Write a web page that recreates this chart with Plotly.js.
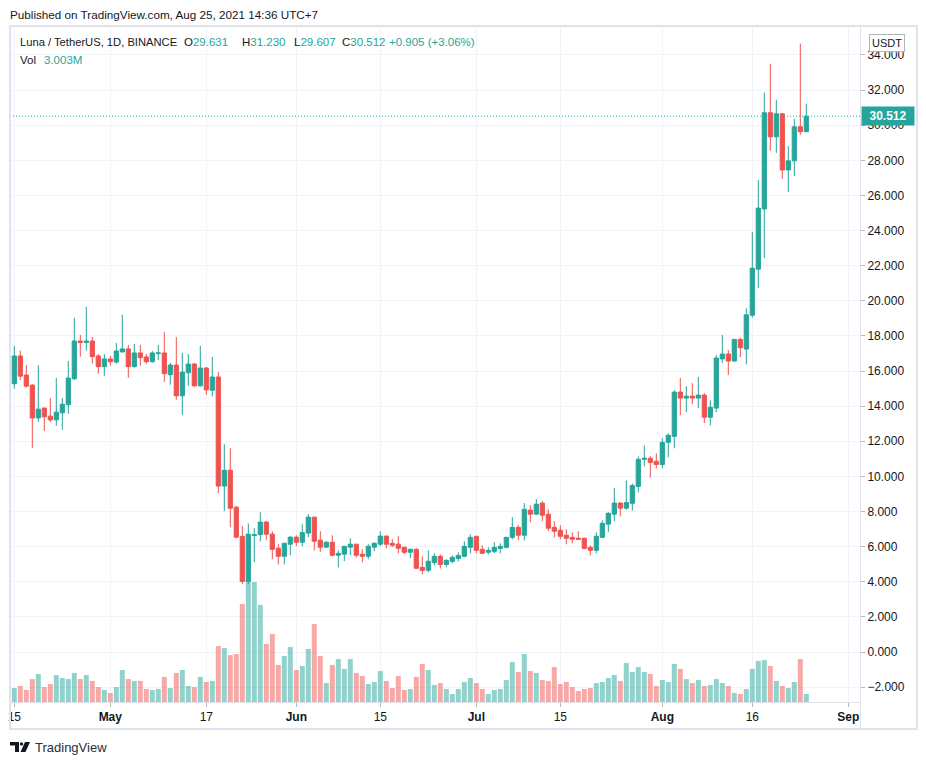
<!DOCTYPE html>
<html>
<head>
<meta charset="utf-8">
<script src="https://cdn.plot.ly/plotly-3.0.1.min.js"></script>
<style>
html,body{margin:0;padding:0;background:#fff;}
#chart{width:926px;height:765px;}
</style>
</head>
<body>
<div id="chart"></div>
<script>
// ---- DATA (Luna / TetherUS, 1D, BINANCE) ----
var dates = [
'2021-04-14','2021-04-15','2021-04-16','2021-04-17','2021-04-18','2021-04-19','2021-04-20','2021-04-21','2021-04-22','2021-04-23','2021-04-24','2021-04-25','2021-04-26','2021-04-27','2021-04-28','2021-04-29','2021-04-30',
'2021-05-01','2021-05-02','2021-05-03','2021-05-04','2021-05-05','2021-05-06','2021-05-07','2021-05-08','2021-05-09','2021-05-10','2021-05-11','2021-05-12','2021-05-13','2021-05-14','2021-05-15','2021-05-16','2021-05-17','2021-05-18','2021-05-19','2021-05-20','2021-05-21','2021-05-22','2021-05-23','2021-05-24','2021-05-25','2021-05-26','2021-05-27','2021-05-28','2021-05-29','2021-05-30','2021-05-31',
'2021-06-01','2021-06-02','2021-06-03','2021-06-04','2021-06-05','2021-06-06','2021-06-07','2021-06-08','2021-06-09','2021-06-10','2021-06-11','2021-06-12','2021-06-13','2021-06-14','2021-06-15','2021-06-16','2021-06-17','2021-06-18','2021-06-19','2021-06-20','2021-06-21','2021-06-22','2021-06-23','2021-06-24','2021-06-25','2021-06-26','2021-06-27','2021-06-28','2021-06-29','2021-06-30',
'2021-07-01','2021-07-02','2021-07-03','2021-07-04','2021-07-05','2021-07-06','2021-07-07','2021-07-08','2021-07-09','2021-07-10','2021-07-11','2021-07-12','2021-07-13','2021-07-14','2021-07-15','2021-07-16','2021-07-17','2021-07-18','2021-07-19','2021-07-20','2021-07-21','2021-07-22','2021-07-23','2021-07-24','2021-07-25','2021-07-26','2021-07-27','2021-07-28','2021-07-29','2021-07-30','2021-07-31',
'2021-08-01','2021-08-02','2021-08-03','2021-08-04','2021-08-05','2021-08-06','2021-08-07','2021-08-08','2021-08-09','2021-08-10','2021-08-11','2021-08-12','2021-08-13','2021-08-14','2021-08-15','2021-08-16','2021-08-17','2021-08-18','2021-08-19','2021-08-20','2021-08-21','2021-08-22','2021-08-23','2021-08-24','2021-08-25'
];
var openP = [
15.70,15.28,16.86,15.77,15.20,13.33,13.89,13.43,13.22,13.62,14.08,15.56,17.71,17.62,17.71,16.86,16.25,
16.69,16.51,17.09,17.26,16.25,17.03,16.80,16.53,16.99,17.03,15.79,16.34,14.59,15.90,16.40,15.16,16.17,14.91,15.66,9.45,10.35,8.25,6.58,4.02,6.63,6.68,7.40,6.71,5.91,5.45,6.14,
6.54,6.25,6.77,7.68,6.37,5.97,6.25,5.51,5.57,5.97,6.14,5.57,5.45,5.97,6.14,6.60,6.19,6.14,5.97,5.68,5.85,4.82,4.65,5.10,5.45,4.99,5.16,5.33,5.45,5.96,
6.59,5.85,5.68,5.73,5.90,5.96,6.53,7.10,6.65,8.08,7.85,8.48,7.85,7.10,6.93,6.65,6.53,6.48,6.48,5.96,5.79,6.53,7.28,7.85,8.48,8.19,8.47,9.43,10.97,11.03,10.86,
10.68,11.94,12.28,14.80,14.46,14.57,14.46,14.63,13.37,13.89,16.69,16.97,16.57,17.80,17.25,19.18,21.80,25.23,30.71,29.34,30.65,27.45,27.97,29.91,29.631
];
var highP = [
16.00,17.43,17.16,16.34,15.25,16.34,13.92,14.46,15.60,14.46,16.57,19.03,18.06,19.66,17.94,16.97,16.97,
16.86,17.60,19.20,17.49,17.54,17.49,16.97,17.14,17.49,18.23,16.46,17.94,17.03,16.97,16.44,17.43,16.23,16.80,15.94,11.83,11.60,8.31,7.17,7.32,7.05,7.96,7.46,6.88,6.14,6.22,6.60,
6.65,7.28,7.85,7.70,6.88,6.30,6.65,5.79,6.04,6.48,6.16,5.85,6.14,6.25,6.88,6.62,6.42,6.60,5.99,5.88,5.91,5.45,5.79,5.62,5.56,5.28,5.50,5.68,6.30,6.70,
6.61,6.08,5.96,6.25,6.19,6.55,7.68,7.22,8.48,8.36,8.71,8.59,8.13,7.45,7.22,6.99,6.82,6.88,6.50,6.08,6.82,7.50,7.96,9.35,8.53,9.77,9.60,11.14,11.77,11.14,11.31,
12.17,12.46,14.91,15.60,15.14,15.31,15.66,14.74,14.34,16.91,18.06,17.20,17.83,17.89,19.57,23.91,26.88,31.85,33.50,31.45,30.70,28.82,30.37,34.65,31.230
];
var lowP = [
15.10,14.99,15.50,15.05,11.62,13.10,12.59,13.10,12.88,12.65,13.56,15.50,16.82,17.16,16.42,15.85,15.73,
16.30,16.42,17.05,15.62,16.20,16.30,16.42,16.48,16.63,15.39,15.22,14.36,13.50,15.16,15.10,15.10,14.65,14.55,9.05,8.02,7.11,6.48,3.87,3.85,5.11,6.31,6.37,5.28,4.99,4.99,5.51,
6.02,6.02,6.54,5.79,5.68,5.95,5.45,4.82,5.17,5.51,5.39,5.11,5.28,5.74,6.02,5.91,5.97,5.62,5.57,5.34,4.71,4.42,4.54,4.93,4.76,4.82,5.05,5.16,5.39,5.62,
5.62,5.60,5.56,5.62,5.62,5.90,6.42,6.36,6.36,7.39,7.83,7.45,6.88,6.53,6.42,6.13,6.19,6.40,5.85,5.50,5.62,6.50,6.82,7.45,7.73,8.11,8.06,9.08,10.57,9.94,10.46,
10.46,11.09,11.60,13.49,13.66,14.11,13.89,13.03,12.91,13.66,16.46,15.77,16.51,16.80,16.38,19.06,20.72,22.43,28.54,28.42,26.94,26.20,27.11,29.45,29.607
];
var closeP = [
15.30,16.86,15.71,15.14,13.33,13.83,13.39,13.22,13.66,14.11,15.60,17.71,17.62,17.71,16.82,16.25,16.69,
16.53,17.14,17.26,16.25,17.03,16.76,16.53,17.03,17.03,15.85,16.34,14.59,15.94,16.40,15.16,16.17,14.93,15.66,9.45,10.35,8.19,6.54,4.02,6.71,6.68,7.40,6.71,5.85,5.45,6.19,6.54,
6.25,6.80,7.68,6.31,5.97,6.25,5.51,5.62,6.02,6.14,5.51,5.45,6.02,6.19,6.60,6.14,6.08,5.91,5.68,5.85,4.77,4.65,5.17,5.45,4.99,5.22,5.39,5.50,6.02,6.53,
5.79,5.62,5.79,5.96,6.02,6.53,7.10,6.65,8.13,7.85,8.42,7.79,7.05,6.88,6.59,6.48,6.42,6.42,5.90,5.79,6.59,7.33,7.90,8.48,8.19,8.51,9.48,10.97,11.03,10.80,10.68,
11.94,12.34,14.80,14.46,14.57,14.46,14.63,13.37,13.94,16.74,16.97,16.57,17.80,17.33,19.20,21.86,25.28,30.71,29.34,30.65,27.45,27.97,29.91,29.631,30.512
];
// volume in millions (LUNA)
var volumeM = [
6.0,5.25,6.0,4.5,8.6,10.5,5.6,6.75,10.1,9.0,8.6,10.9,8.6,10.1,7.9,5.6,4.5,
3.4,5.6,12.0,8.6,7.9,7.9,4.9,4.5,4.9,9.4,5.25,10.9,12.0,6.0,5.6,9.4,7.5,7.9,21.0,20.25,17.6,18.0,36.75,45.5,45.0,36.4,21.75,25.5,13.9,17.25,20.6,
12.0,13.5,19.9,29.25,17.25,7.1,13.9,16.1,12.4,16.1,10.9,9.75,6.75,7.5,11.6,7.9,5.25,9.75,4.5,4.9,9.4,14.25,12.0,6.4,7.1,4.9,3.0,4.9,7.5,9.0,
7.1,4.9,3.0,4.5,4.9,8.25,15.0,11.25,18.0,11.6,10.9,8.25,7.9,13.1,6.75,7.5,5.6,4.1,4.9,5.25,7.1,7.5,9.0,10.1,7.9,14.6,11.25,13.1,11.25,10.5,6.0,
8.25,7.5,14.25,12.4,8.6,7.1,8.25,6.0,6.4,8.6,7.1,6.0,3.4,3.0,4.9,12.4,15.4,15.75,13.5,7.9,6.0,5.25,7.5,16.1,3.003
];
var xTickDates = ['2021-04-15','2021-05-01','2021-05-17','2021-06-01','2021-06-15','2021-07-01','2021-07-15','2021-08-01','2021-08-16','2021-09-01'];
var xTickLabels = ['15','<b>May</b>','17','<b>Jun</b>','15','<b>Jul</b>','15','<b>Aug</b>','16','<b>Sep</b>'];
var lastPrice = 30.512;
var header = 'Published on TradingView.com, Aug 25, 2021 14:36 UTC+7';
var symbolText = 'Luna / TetherUS, 1D, BINANCE';
var ohlcLabels = ['O','H','L','C'];
var ohlcValues = ['29.631','31.230','29.607','30.512'];
var changeText = '+0.905 (+3.06%)';
var volText = '3.003M';

// ---- STYLE ----
var UP = '#26a69a', DOWN = '#ef5350';
var UPV = 'rgba(38,166,154,0.5)', DOWNV = 'rgba(239,83,80,0.5)';
var GRID = '#f0f3fa', BORDER = '#e0e3eb', TXT = '#131722';
var FONT = 'Liberation Sans, Arial, sans-serif';

var W = 926, H = 765, ML = 10, MR = 66, MT = 26, MB = 63;
var PW = W - ML - MR, PH = H - MT - MB;
function px(x){ return (x - ML) / PW; }
function py(y){ return (H - MB - y) / PH; }

var volColors = closeP.map(function(c,i){ return c >= openP[i] ? UPV : DOWNV; });

var DAY = 86400000;
var t15 = Date.UTC(2021,3,15);
function iso(ms){ return new Date(ms).toISOString().replace('T',' ').slice(0,19); }
var xr0 = iso(t15 - (14.3 - ML)/6.0*DAY);
var xr1 = iso(t15 + (860 - 14.3)/6.0*DAY);

var volTrace = {
  type:'bar', x:dates, y:volumeM, xaxis:'x', yaxis:'y',
  marker:{color:volColors, line:{width:0}}, hoverinfo:'skip', showlegend:false
};
var candle = {
  type:'candlestick', x:dates, open:openP, high:highP, low:lowP, close:closeP,
  xaxis:'x', yaxis:'y2', whiskerwidth:0,
  increasing:{line:{color:UP,width:1}, fillcolor:UP},
  decreasing:{line:{color:DOWN,width:1}, fillcolor:DOWN},
  showlegend:false
};

var ann = [];
ann.push({xref:'paper',yref:'paper',x:px(8),y:py(15),xanchor:'left',yanchor:'middle',showarrow:false,
  text:header,font:{family:FONT,size:11.7,color:TXT}});
ann.push({xref:'paper',yref:'paper',x:px(18),y:py(42),xanchor:'left',yanchor:'middle',showarrow:false,
  text:symbolText,font:{family:FONT,size:11.2,color:TXT}});
var ohlcX = [181.5,240,291.5,340];
for (var i=0;i<4;i++){
  ann.push({xref:'paper',yref:'paper',x:px(ohlcX[i]),y:py(42),xanchor:'left',yanchor:'middle',showarrow:false,
    text:ohlcLabels[i]+'<span style="color:'+UP+'">'+ohlcValues[i]+'</span>',font:{family:FONT,size:11.5,color:TXT}});
}
ann.push({xref:'paper',yref:'paper',x:px(387),y:py(42),xanchor:'left',yanchor:'middle',showarrow:false,
  text:changeText,font:{family:FONT,size:11.5,color:UP}});
ann.push({xref:'paper',yref:'paper',x:px(18),y:py(60),xanchor:'left',yanchor:'middle',showarrow:false,
  text:'Vol',font:{family:FONT,size:11.5,color:TXT}});
ann.push({xref:'paper',yref:'paper',x:px(41.5),y:py(60),xanchor:'left',yanchor:'middle',showarrow:false,
  text:volText,font:{family:FONT,size:11.5,color:UP}});
// currency box
ann.push({xref:'paper',yref:'paper',x:px(887),y:py(43),xanchor:'center',yanchor:'middle',showarrow:false,
  text:'USDT',font:{family:FONT,size:11,color:TXT},bgcolor:'#ffffff',bordercolor:'#b2b5be',borderwidth:1,borderpad:2});
// last price tag
ann.push({xref:'paper',yref:'y2',x:px(861),y:lastPrice,xanchor:'left',yanchor:'middle',showarrow:false,
  text:'<b>'+lastPrice.toFixed(3)+'</b>',font:{family:FONT,size:12,color:'#ffffff'},bgcolor:UP,borderpad:2,width:48,align:'center'});
// bottom brand
ann.push({xref:'paper',yref:'paper',x:px(33),y:py(747),xanchor:'left',yanchor:'middle',showarrow:false,
  text:'TradingView',font:{family:FONT,size:13,color:'#2a2e39'}});

var shapes = [
  {type:'line',xref:'paper',yref:'y2',x0:0,x1:1,y0:lastPrice,y1:lastPrice,line:{color:UP,width:1,dash:'1px,2px'},layer:'above'},
  {type:'rect',xref:'paper',yref:'paper',x0:px(10),x1:px(917),y0:py(729),y1:py(26),line:{color:BORDER,width:2},layer:'above'},
  {type:'line',xref:'paper',yref:'paper',x0:px(860.5),x1:px(860.5),y0:py(729),y1:py(26),line:{color:BORDER,width:1},layer:'above'},
  // TradingView logo
  {type:'path',xref:'paper',yref:'paper',fillcolor:'#131722',line:{width:0},
   path:'M'+px(10)+','+py(742)+' L'+px(19)+','+py(742)+' L'+px(19)+','+py(752)+' L'+px(15)+','+py(752)+' L'+px(15)+','+py(745.5)+' L'+px(10)+','+py(745.5)+' Z'},
  {type:'circle',xref:'paper',yref:'paper',fillcolor:'#131722',line:{width:0},
   x0:px(19.8),x1:px(23.2),y0:py(745.6),y1:py(742.2)},
  {type:'path',xref:'paper',yref:'paper',fillcolor:'#131722',line:{width:0},
   path:'M'+px(25)+','+py(742)+' L'+px(30)+','+py(742)+' L'+px(25.5)+','+py(752)+' L'+px(20.5)+','+py(752)+' Z'}
];

var layout = {
  width:W, height:H,
  margin:{l:ML,r:MR,t:MT,b:MB,pad:0},
  paper_bgcolor:'#ffffff', plot_bgcolor:'#ffffff',
  font:{family:FONT,size:12,color:TXT},
  showlegend:false,
  bargap:0.17, boxgap:0.3, boxgroupgap:0,
  xaxis:{type:'date',range:[xr0,xr1],rangeslider:{visible:false},
    tickmode:'array',tickvals:xTickDates,ticktext:xTickLabels,
    showgrid:true,gridcolor:GRID,gridwidth:1,
    ticks:'outside',ticklen:4,tickcolor:'#b2b5be',
    showline:true,linecolor:BORDER,linewidth:1,
    tickfont:{family:FONT,size:12,color:TXT},fixedrange:true},
  yaxis:{range:[0, PH*0.375],visible:false,showgrid:false,zeroline:false,fixedrange:true},
  yaxis2:{overlaying:'y',side:'right',range:[(H-MB-652)/-17.56, (652-MT)/17.56],
    tick0:0,dtick:2,tickformat:'.3f',
    showgrid:true,gridcolor:GRID,gridwidth:1,zeroline:false,
    ticks:'outside',ticklen:4,tickcolor:'#b2b5be',
    showline:false,
    tickfont:{family:FONT,size:12,color:TXT},fixedrange:true},
  annotations:ann,
  shapes:shapes
};

Plotly.newPlot('chart',[volTrace,candle],layout,{staticPlot:true,displayModeBar:false});
</script>
</body>
</html>
